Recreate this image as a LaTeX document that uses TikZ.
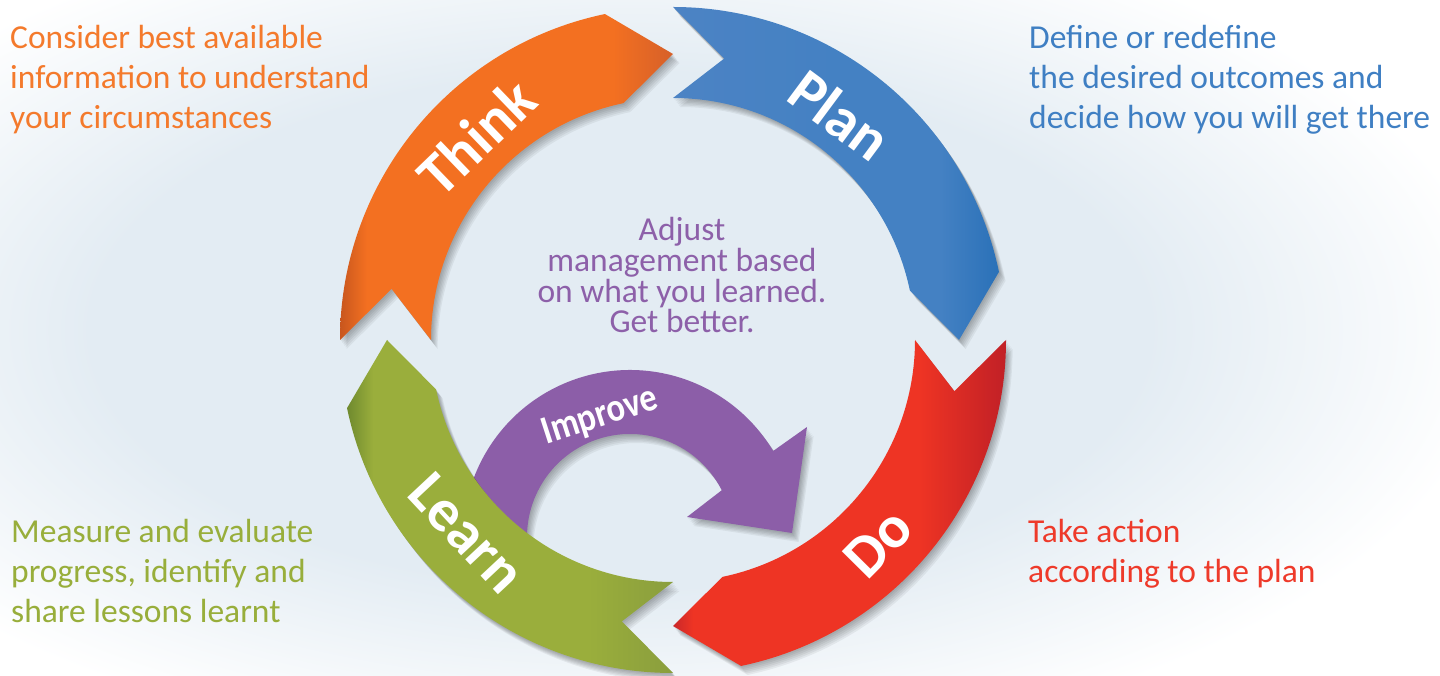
\documentclass[tikz,border=0pt]{standalone}
\usepackage{fontspec}
\setmainfont{Carlito}
\usetikzlibrary{calc}
\definecolor{bgb}{HTML}{E3ECF3}
\definecolor{thinkD}{HTML}{C8561E}
\definecolor{thinkM}{HTML}{F37021}
\definecolor{thinkR}{HTML}{D66029}
\definecolor{planL}{HTML}{4C83C4}
\definecolor{planM}{HTML}{4481C3}
\definecolor{planR}{HTML}{2A71B8}
\definecolor{doL}{HTML}{C9282A}
\definecolor{doM}{HTML}{EE3424}
\definecolor{doR}{HTML}{C12026}
\definecolor{learnL}{HTML}{6F8A2F}
\definecolor{learnM}{HTML}{9AAE3C}
\definecolor{learnR}{HTML}{8A9E3D}
\definecolor{purp}{HTML}{8C5EA8}
\definecolor{tOr}{HTML}{F47A2C}
\definecolor{tBl}{HTML}{3F7FC3}
\definecolor{tGr}{HTML}{98AE3B}
\definecolor{tRd}{HTML}{EE3A2A}
\definecolor{tPu}{HTML}{8D60A9}
\pgfdeclareradialshading{bgshade}{\pgfpoint{0bp}{0bp}}{color(0bp)=(bgb); color(15bp)=(bgb); color(25bp)=(white); color(50bp)=(white)}
\pgfdeclarehorizontalshading{thinkshade}{100bp}{color(0bp)=(thinkD); color(25bp)=(thinkD); color(29bp)=(thinkM); color(66bp)=(thinkM); color(75bp)=(thinkR); color(100bp)=(thinkR)}
\pgfdeclarehorizontalshading{planshade}{100bp}{color(0bp)=(planL); color(25bp)=(planL); color(50bp)=(planM); color(66bp)=(planM); color(75bp)=(planR); color(100bp)=(planR)}
\pgfdeclarehorizontalshading{doshade}{100bp}{color(0bp)=(doL); color(25bp)=(doL); color(28bp)=(doM); color(62bp)=(doM); color(75bp)=(doR); color(100bp)=(doR)}
\pgfdeclarehorizontalshading{learnshade}{100bp}{color(0bp)=(learnL); color(25bp)=(learnL); color(29bp)=(learnM); color(62bp)=(learnM); color(75bp)=(learnR); color(100bp)=(learnR)}
\newcommand\segpath[1]{({#1}:333) -- ({#1-10.3}:286) -- ({#1}:242) arc[start angle={#1}, end angle={#1-78.2}, radius=242] -- ({#1-90}:286) -- ({#1-78.2}:333) arc[start angle={#1-78.2}, end angle={#1}, radius=333] -- cycle}
\newcommand\purplepath{(200:167) arc[start angle=200, end angle=31, radius=167] -- (177,110) -- (162,4) -- (57,20) -- (27:103) arc[start angle=27, end angle=200, radius=103] -- cycle}
\newcommand\softshadow[1]{\foreach \k in {1,...,6}{\fill[black,opacity=0.055,shift={(1.1*\k,-1.5*\k)}] #1;}}
\begin{document}
\begin{tikzpicture}[x=1pt,y=1pt,
  lbl/.style={text=white, font=\fontsize{60}{60}\selectfont\bfseries, inner sep=0pt},
  desc/.style={font=\fontsize{33.5}{40}\selectfont, align=left, inner sep=0pt, anchor=base west}]
\useasboundingbox (0,0) rectangle (1440,675);
\begin{scope}
  \clip (0,0) rectangle (1440,675);
  \fill[white] (0,0) rectangle (1440,675);
  \shade[shading=bgshade] (620,345) ellipse [x radius=880, y radius=430];
\end{scope}
% improve arrow
\begin{scope}[shift={(630,138)}]
  \softshadow{\purplepath}
  \fill[purp] \purplepath;
\end{scope}
\node[lbl, font=\fontsize{40}{40}\selectfont\bfseries, rotate=18] (improve) at (600,258) {\scalebox{0.86}[1]{Improve}};
% cycle
\begin{scope}[shift={(673,335)}]
  \softshadow{\segpath{180}}
  \shade[shading=thinkshade] \segpath{180};
  \softshadow{\segpath{90}}
  \shade[shading=planshade] \segpath{90};
  \softshadow{\segpath{0}}
  \shade[shading=doshade] \segpath{0};
  \softshadow{\segpath{-90}}
  \shade[shading=learnshade] \segpath{-90};
\end{scope}
\node[lbl, rotate=44] (think) at (476,538) {Think};
\node[lbl, rotate=-36.6] (plan) at (840,560) {Plan};
\node[lbl, rotate=45.3] (do) at (878,132) {Do};
\node[lbl, rotate=-46.9] (learn) at (467,142) {Learn};
% descriptions (anchor base = baseline of the last line)
\node[desc, text=tOr] (thinkd) at (10,546) {Consider best available\\information to understand\\your circumstances};
\node[desc, text=tBl] (pland) at (1029,546) {Define or redefine\\the desired outcomes and\\decide how you will get there};
\node[desc, text=tGr] (learnd) at (11,53) {Measure and evaluate\\progress, identify and\\share lessons learnt};
\node[desc, text=tRd] (dod) at (1028,93) {Take action\\according to the plan};
\node[font=\fontsize{33.5}{30.7}\selectfont, align=center, inner sep=0pt, anchor=base, text=tPu] (adjust) at (682,342) {Adjust\\management based\\on what you learned.\\Get better.};
\end{tikzpicture}
\end{document}
